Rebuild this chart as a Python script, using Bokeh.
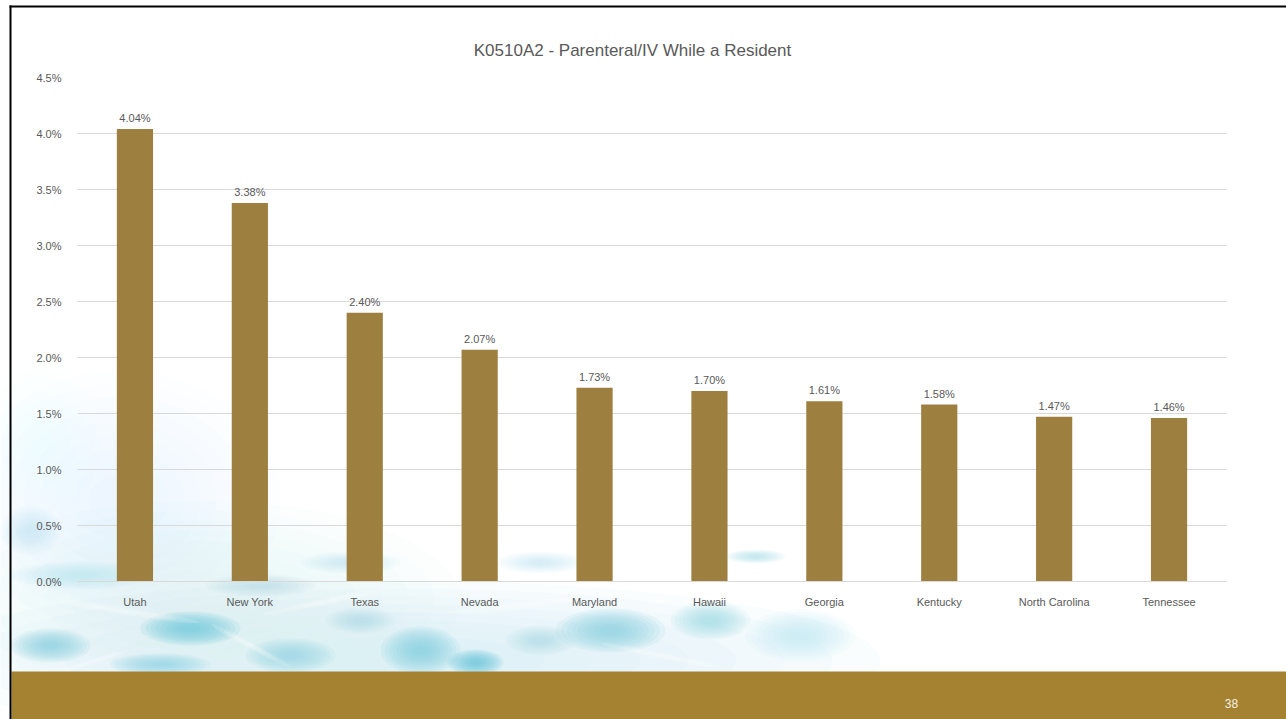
from bokeh.plotting import figure
from bokeh.layouts import column, row
from bokeh.models import (ColumnDataSource, FactorRange, Range1d, LabelSet,
                          PrintfTickFormatter, FixedTicker)
from bokeh.core.properties import value
from bokeh.embed import file_html
from bokeh.resources import INLINE

# --- data -------------------------------------------------------------
states = ["Utah", "New York", "Texas", "Nevada", "Maryland", "Hawaii",
          "Georgia", "Kentucky", "North Carolina", "Tennessee"]
rates = [4.04, 3.38, 2.40, 2.07, 1.73, 1.70, 1.61, 1.58, 1.47, 1.46]
y_ticks = [0.0, 0.5, 1.0, 1.5, 2.0, 2.5, 3.0, 3.5, 4.0, 4.5]
title_text = "K0510A2 - Parenteral/IV While a Resident"
page_number = "38"

FONT = "Liberation Sans"
TEXT_GRAY = "#595959"
BAR_GOLD = "#9D8040"
BAND_GOLD = "#A58232"
W, H = 1286, 719

# --- slide backdrop (pixel coordinates, y downward) --------------------
bg = figure(width=W, height=H, x_range=Range1d(0, W), y_range=Range1d(H, 0),
            x_axis_type=None, y_axis_type=None, output_backend="svg",
            toolbar_location=None, min_border=0)
bg.grid.visible = False
bg.outline_line_color = None
bg.background_fill_color = "white"
bg.border_fill_color = "white"

# pale water haze plus brighter ripple patches: (cx, cy, w, h, alpha, colour)
haze = [
    (400, 660, 960, 160, 0.50, "#cdebf3"),
    (200, 600, 520, 200, 0.35, "#d3edf4"),
    (120, 500, 320, 260, 0.22, "#dcf1f6"),
    (40, 440, 120, 160, 0.18, "#dcf1f6"),
]
patches = [
    (190, 628, 100, 34, 0.75, "#6fc6dd"),
    (50, 645, 80, 34, 0.60, "#86cfe2"),
    (160, 664, 100, 22, 0.55, "#86cfe2"),
    (290, 655, 90, 34, 0.55, "#8fd2e4"),
    (420, 650, 80, 48, 0.60, "#7fcbe0"),
    (475, 662, 56, 26, 0.70, "#6cc4dc"),
    (610, 630, 110, 44, 0.60, "#80cce1"),
    (710, 620, 80, 38, 0.50, "#92d3e5"),
    (800, 635, 110, 52, 0.35, "#a8dcea"),
    (80, 575, 140, 28, 0.35, "#a8dcea"),
    (260, 585, 110, 22, 0.35, "#a5dbe9"),
    (350, 562, 100, 22, 0.30, "#b0e0ec"),
    (540, 562, 90, 22, 0.30, "#b0e0ec"),
    (755, 556, 60, 14, 0.40, "#9fd8e8"),
    (30, 530, 60, 50, 0.30, "#b0e0ec"),
    (360, 620, 70, 26, 0.35, "#a0d9e8"),
    (540, 640, 70, 30, 0.35, "#a0d9e8"),
]
layers = [1.0, 0.9, 0.8, 0.7, 0.6, 0.5, 0.4, 0.3, 0.2]
for cx, cy, w, h, a, c in haze + patches:
    for s in layers:
        bg.ellipse(x=cx, y=cy, width=w * s, height=h * s, fill_color=c,
                   fill_alpha=a / 5, line_color=None)

# soft caustic streaks across the water
streaks = [(120, 610, 160, 8, -0.15), (330, 600, 140, 7, 0.2), (250, 645, 90, 7, -0.5),
           (520, 605, 150, 8, 0.1), (660, 655, 120, 7, -0.2), (90, 662, 80, 6, 0.3)]
for cx, cy, w, h, ang in streaks:
    for s in (1.0, 0.7, 0.4):
        bg.ellipse(x=cx, y=cy, width=w * s, height=h * s, angle=ang,
                   fill_color="white", fill_alpha=0.15, line_color=None)

# gold footer band, page number, dark slide edges
bg.quad(left=11, right=W, top=671, bottom=H, fill_color=BAND_GOLD, line_color=None)
bg.text(x=[1231], y=[703], text=[page_number], text_align="center",
        text_baseline="middle", text_font=value(FONT), text_font_size="12px",
        text_color="#F7F0E0")
bg.quad(left=9, right=W, top=5, bottom=7, fill_color="black", line_color=None)
bg.quad(left=9, right=11, top=5, bottom=H, fill_color="black", line_color=None)

bg.text(x=[632], y=[50], text=[title_text], text_align="center",
        text_baseline="middle", text_font=value(FONT), text_font_size="17px",
        text_color=TEXT_GRAY)

# --- bar chart, laid over the backdrop ---------------------------------
src = ColumnDataSource(dict(state=states, rate=rates,
                            label=[f"{v:.2f}%" for v in rates]))

p = figure(width=W, height=H, x_range=FactorRange(factors=states, range_padding=0),
           y_range=Range1d(0, 4.5), output_backend="svg", toolbar_location=None,
           min_border_left=77, min_border_right=60, min_border_top=77,
           min_border_bottom=138)
p.background_fill_color = None
p.border_fill_color = None
p.outline_line_color = None

p.vbar(x="state", top="rate", width=0.315, source=src, color=BAR_GOLD, line_color=None)

p.add_layout(LabelSet(x="state", y="rate", text="label", source=src, y_offset=5,
                      text_align="center", text_baseline="bottom",
                      text_font=value(FONT), text_font_size="11px",
                      text_color=TEXT_GRAY))

p.yaxis.ticker = FixedTicker(ticks=y_ticks)
p.yaxis.formatter = PrintfTickFormatter(format="%.1f%%")
p.yaxis.axis_line_color = None
p.yaxis.major_tick_line_color = None
p.yaxis.minor_tick_line_color = None
p.yaxis.major_label_text_font = FONT
p.yaxis.major_label_text_font_size = "11px"
p.yaxis.major_label_text_color = TEXT_GRAY
p.yaxis.major_label_standoff = 10

p.xaxis.axis_line_color = "#D9D9D9"
p.xaxis.major_tick_line_color = None
p.xaxis.minor_tick_line_color = None
p.xaxis.major_label_text_font = FONT
p.xaxis.major_label_text_font_size = "11px"
p.xaxis.major_label_text_color = TEXT_GRAY
p.xaxis.major_label_standoff = 8

p.xgrid.grid_line_color = None
p.ygrid.grid_line_color = "#D9D9D9"
p.ygrid.ticker = FixedTicker(ticks=y_ticks)

# the chart sits in its own row, pulled up over the backdrop
chart_row = row(p)
chart_row.margin = (-H, 0, 0, 0)
page = column(row(bg), chart_row, spacing=0)
open("out.html", "w").write(file_html(page, INLINE))
